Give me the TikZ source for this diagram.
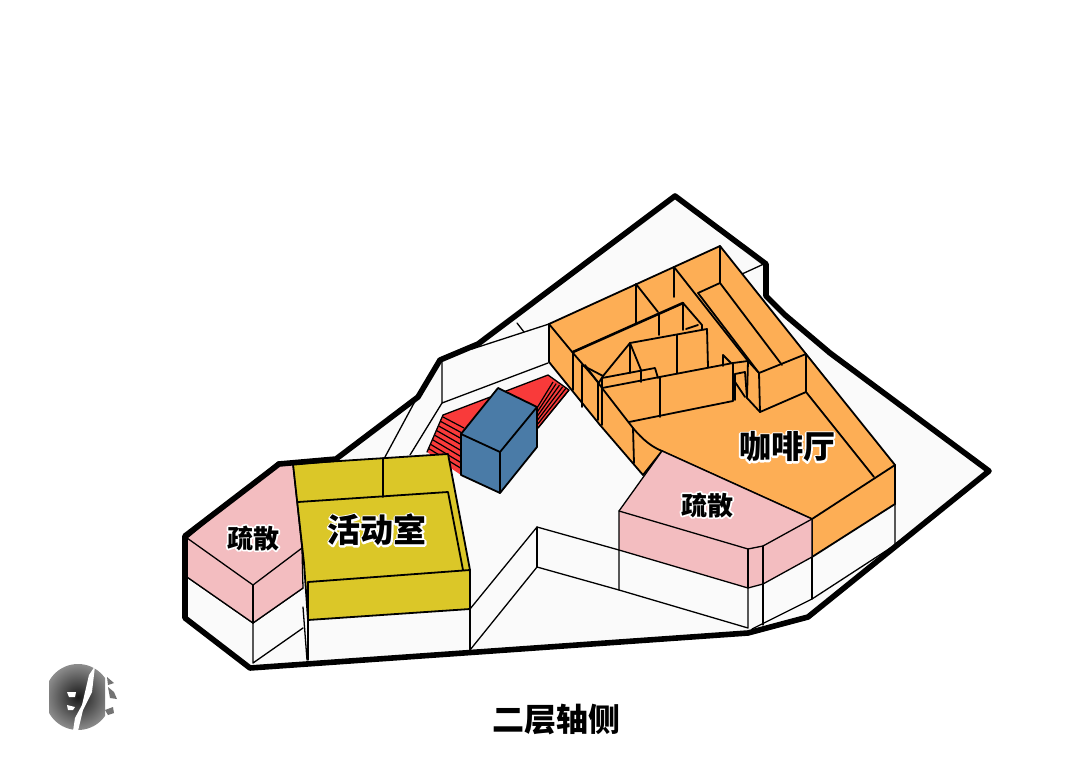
\documentclass[tikz,border=0pt]{standalone}
\usepackage{fontspec}
\newfontfamily\cjk{Noto Sans CJK SC Black}
\usetikzlibrary{calc}
\definecolor{floorc}{HTML}{FAFAFA}
\definecolor{orangec}{HTML}{FDAE55}
\definecolor{pinkc}{HTML}{F3BDC0}
\definecolor{yellowc}{HTML}{DBC728}
\definecolor{redc}{HTML}{F93A3A}
\definecolor{bluec}{HTML}{4A7BA7}
\newcommand{\halotext}[2]{{\fontsize{#1}{#1}\selectfont\cjk\rlap{\special{pdf:code q 1 1 1 RG 1 1 1 rg 3.5 w 1 j 2 Tr}#2\special{pdf:code Q}}#2}}
\tikzset{
  ln/.style={draw=black,line width=1.8pt,line join=round,line cap=round},
  thin ln/.style={draw=black,line width=1.3pt,line join=round,line cap=round},
  outline/.style={draw=black,line width=5.6pt,line join=round},
  lab/.style={inner sep=0pt,text=black}
}
\begin{document}
\begin{tikzpicture}[x=1pt,y=-1pt]
\useasboundingbox (0,0) rectangle (1079,771);
\fill[white] (0,0) rectangle (1079,771);
% floor
\fill[floorc] (675,196) -- (766,264) -- (766,296) -- (785,315) -- (830,353) -- (989,471) -- (808,617) -- (748,633) -- (250,668) -- (185,618) -- (185,536) -- (279,464) -- (336,459) -- (418,397) -- (440,360) -- (478,344) -- cycle;
% floor lines
\draw[thin ln] (442,361) -- (442,403) -- (548,363);
\draw[thin ln] (442,403) -- (410,455);
\draw[thin ln] (420,392) -- (385,457);
\draw[thin ln] (549,324) -- (472,349);
\draw[thin ln] (517,323) -- (524,332);
\draw[thin ln] (742,274) -- (766,263);
\draw[thin ln] (470,609) -- (537,527) -- (619,550);
\draw[thin ln] (470,650) -- (537,567) -- (619,590);
\draw[thin ln] (537,527) -- (537,567);
% red floor and stairs
\fill[redc] (443,415) -- (548,375) -- (569,390) -- (538,428) -- (461,475) -- (427,452) -- cycle;
\draw[thin ln] (443,415) -- (548,375) -- (569,390) -- (538,428);
\draw[thin ln] (443,415) -- (427,452);
\foreach \t in {0,0.13,0.26,0.39,0.52,0.65,0.78,0.9}{
  \draw[line width=1.2pt] ($(443,417)!\t!(427,452)$) -- ($(464,428)!\t!(461,473)$);
}
\foreach \t in {0,0.2,0.4,0.6,0.8,1}{
  \draw[line width=1.2pt] ($(553,382)!\t!(569,390)$) -- ($(537,408)!\t!(538,428)$);
}
% blue box
\filldraw[ln,fill=bluec] (498,388) -- (537,407) -- (537,447) -- (500,493) -- (461,475) -- (461,434) -- cycle;
\draw[ln] (461,434) -- (500,452) -- (537,407);
\draw[ln] (500,452) -- (500,493);
% lower white walls, left
\draw[thin ln] (187,577) -- (253,623) -- (303,588);
\draw[thin ln] (253,623) -- (253,663) -- (303,628);
\draw[thin ln] (303,607) -- (307,660);
\draw[thin ln] (308,620) -- (308,660);
\draw[thin ln] (470,609) -- (470,650);
% pink left
\filldraw[thin ln,fill=pinkc] (187,538) -- (278,462) -- (293,464) -- (302,548) -- (303,588) -- (253,623) -- (187,577) -- cycle;
\draw[thin ln] (187,538) -- (253,585) -- (302,548);
\draw[thin ln] (253,585) -- (253,623);
% yellow
\filldraw[ln,fill=yellowc] (293,464) -- (448,454) -- (470,570) -- (470,609) -- (308,620) -- (304,563) -- cycle;
\draw[ln] (298,502) -- (448,492) -- (463,570);
\draw[ln] (308,582) -- (470,570);
\draw[ln] (383,458) -- (383,497);
\draw[ln] (308,582) -- (308,620);
% white walls right
\draw[thin ln] (619,550) -- (619,590) -- (748,628) -- (748,588);
\draw[thin ln] (763,584) -- (763,625);
\draw[thin ln] (812,557) -- (812,599);
\draw[thin ln] (895,504) -- (895,545) -- (812,599) -- (752,629);
% orange
\filldraw[ln,fill=orangec] (549,324) -- (720,246) -- (806,354) -- (895,465) -- (895,504) -- (812,557) -- (812,519) -- (662,451) -- (643,475) -- (600,425) -- (549,362) -- cycle;
\draw[ln] (549,324) -- (573,353);
\draw[ln] (573,353) -- (573,390);
\draw[ln] (582,365) -- (582,407);
\draw[ln] (573,353) -- (598,382) -- (598,420);
\draw[ln] (602,388) -- (602,425);
\draw[ln] (582,365) -- (603,376);
\draw[ln] (585,365) -- (602,388) -- (633,428) .. controls (643,440) and (652,447) .. (662,451);
\draw[ln] (633,428) -- (634,463);
\draw[ln] (720,246) -- (720,283) -- (698,293);
\draw[ln] (720,283) -- (782,365);
\draw[ln] (698,293) -- (759,373) -- (806,354);
\draw[ln] (759,373) -- (760,412) -- (806,392) -- (806,354);
\draw[ln] (806,392) -- (874,477);
\draw[ln] (812,519) -- (895,465);
\draw[ln] (674,267) -- (674,297);
\draw[ln] (674,267) -- (748,361) -- (759,373);
\draw[ln] (748,361) -- (747,398) -- (760,412);
\draw[ln] (636,284) -- (636,323);
\draw[ln] (636,284) -- (658,312);
\draw[line width=2.6pt,line cap=round] (573,352) -- (683,303);
\draw[ln] (683,303) -- (683,330);
\draw[ln] (683,303) -- (702,325) -- (702,329);
\draw[ln] (659,313) -- (659,335);
\draw[ln] (686,329) -- (698,325);
\draw[ln] (630,343) -- (707,329) -- (708,367);
\draw[ln] (677,335) -- (677,373);
\draw[ln] (603,376) -- (630,343) -- (641,370) -- (641,382);
\draw[ln] (630,343) -- (630,373);
\draw[ln] (603,376) -- (598,384);
\draw[ln] (602,378) -- (655,368) -- (658,378);
\draw[ln] (602,378) -- (602,388);
\draw[ln] (602,388) -- (733,363) -- (748,361);
\draw[ln] (660,377) -- (660,417);
\draw[ln] (733,363) -- (733,401) -- (629,422);
\draw[ln] (723,355) -- (723,366);
\draw[ln] (723,355) -- (731,363);
\draw[ln] (735,374) -- (745,372) -- (747,398);
\draw[ln] (735,382) -- (745,397);
\draw[ln] (735,374) -- (735,400);
% pink right
\filldraw[thin ln,fill=pinkc] (662,451) -- (812,519) -- (812,557) -- (763,584) -- (748,588) -- (619,550) -- (619,511) -- cycle;
\draw[thin ln] (619,511) -- (748,549) -- (763,546) -- (812,519);
\draw[thin ln] (748,549) -- (748,588);
\draw[thin ln] (763,546) -- (763,584);
% outline
\draw[outline] (675,196) -- (766,264) -- (766,296) -- (785,315) -- (830,353) -- (989,471) -- (808,617) -- (748,633) -- (250,668) -- (185,618) -- (185,536) -- (279,464) -- (336,459) -- (418,397) -- (440,360) -- (478,344) -- cycle;
% labels
\node[lab] (lbA) at (253,538) {\halotext{26}{疏散}};
\node[lab] (lbB) at (377,530) {\halotext{33}{活动室}};
\node[lab] (lbC) at (707,505) {\halotext{26}{疏散}};
\node[lab] (lbD) at (787,447) {\halotext{32}{咖啡厅}};
\node[lab] (lbE) at (556,720) {\fontsize{32}{32}\selectfont\cjk 二层轴侧};
% logo
\begin{scope}
\clip (49,660) rectangle (105,734);
\shade[inner color=black!90,outer color=black!45] (78,697) circle (33);
\end{scope}
\fill[white] (95,666) -- (89,675) -- (82,705) -- (75,718) -- (73,731) -- (78,731) -- (83,710) -- (92,692) -- cycle;
\fill[white] (67,692) -- (76,692) -- (75,697) -- (69,697) -- cycle;
\fill[white] (67,705) -- (75,707) -- (73,710) -- (68,710) -- cycle;
\fill[black!55] (107,677) -- (114,683) -- (108,685) -- cycle;
\fill[black!55] (108,687) -- (114,692) -- (117,699) -- (110,698) -- cycle;
\fill[black!55] (105,710) -- (113,707) -- (114,713) -- (108,715) -- cycle;
\end{tikzpicture}
\end{document}
